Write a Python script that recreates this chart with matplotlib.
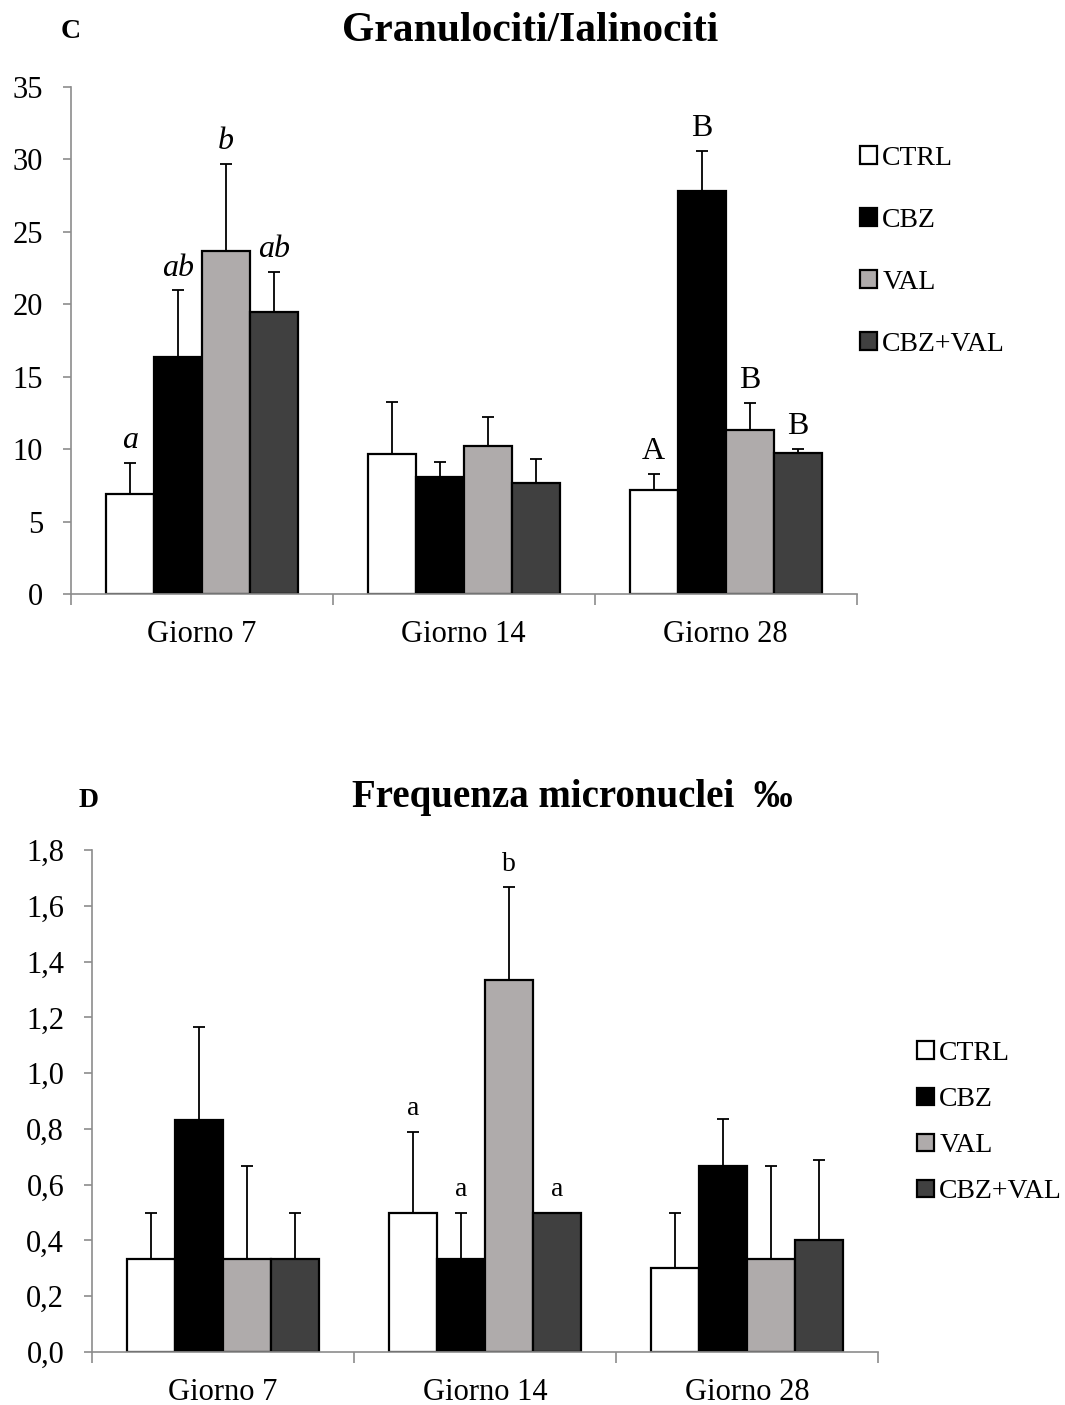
import matplotlib
matplotlib.use("Agg")
import matplotlib.pyplot as plt
import numpy as np
from matplotlib.ticker import FixedLocator, FuncFormatter

plt.rcParams['font.family'] = ['Liberation Serif', 'DejaVu Serif']

days = ['Giorno 7', 'Giorno 14', 'Giorno 28']
groups = ['CTRL', 'CBZ', 'VAL', 'CBZ+VAL']
colors = ['#ffffff', '#000000', '#afabab', '#404040']

# Panel C: Granulociti/Ialinociti (rows = groups, cols = days)
gran_mean = [[6.9, 9.66, 7.18],
             [16.33, 8.1, 27.83],
             [23.7, 10.19, 11.3],
             [19.48, 7.66, 9.75]]
gran_err = [[2.16, 3.57, 1.1],
            [4.65, 1.0, 2.77],
            [6.0, 2.05, 1.9],
            [2.77, 1.66, 0.28]]
gran_letters = [['a', '', 'A'],
                ['ab', '', 'B'],
                ['b', '', 'B'],
                ['ab', '', 'B']]
gran_italic = [True, False, False]

# Panel D: Frequenza micronuclei
mn_mean = [[0.333, 0.5, 0.3],
           [0.833, 0.333, 0.667],
           [0.333, 1.333, 0.333],
           [0.333, 0.5, 0.4]]
mn_err = [[0.167, 0.29, 0.2],
          [0.333, 0.167, 0.167],
          [0.333, 0.333, 0.333],
          [0.167, 0.0, 0.29]]
mn_letters = [['', 'a', ''],
              ['', 'a', ''],
              ['', 'b', ''],
              ['', 'a', '']]

W, H = 1065, 1405
fig = plt.figure(figsize=(W / 100, H / 100), dpi=100)

def px_axes(left, right, top, bottom):
    return fig.add_axes([left / W, 1 - bottom / H, (right - left) / W, (bottom - top) / H])

ax1 = px_axes(70.7, 856.7, 87, 594)
ax2 = px_axes(92, 878, 850, 1352)

bw = 48 / 262.0
axis_gray = '#8c8c8c'

def draw(ax, means, errs, letters, ymax, yticks, fmt, italic_by_day, letter_size, letter_off):
    x = np.arange(len(days)) + 0.5
    bars = []
    for g in range(len(groups)):
        xs = x + (g - 1.5) * bw
        b = ax.bar(xs, means[g], width=bw, color=colors[g], edgecolor='black',
                   linewidth=1.6, label=groups[g], zorder=2)
        bars.append(b)
        ax.errorbar(xs, means[g], yerr=[np.zeros(len(days)), errs[g]], fmt='none',
                    ecolor='black', elinewidth=1.3, capsize=4.3, capthick=1.3, zorder=1)
        for d in range(len(days)):
            t = letters[g][d]
            if t:
                ax.annotate(t, (xs[d], means[g][d] + errs[g][d]), xytext=(0, letter_off),
                            textcoords='offset points', ha='center', va='baseline',
                            fontsize=letter_size,
                            style='italic' if italic_by_day[d] else 'normal')
    ax.set_xlim(0, 3)
    ax.set_ylim(0, ymax)
    for s in ['top', 'right']:
        ax.spines[s].set_visible(False)
    for s in ['left', 'bottom']:
        ax.spines[s].set_color(axis_gray)
        ax.spines[s].set_linewidth(1.2)
    ax.set_yticks(yticks)
    ax.yaxis.set_major_formatter(FuncFormatter(fmt))
    ax.tick_params(axis='y', direction='out', length=6, width=1.2, color=axis_gray,
                   labelsize=22, pad=14)
    ax.xaxis.set_major_locator(FixedLocator([0, 1, 2, 3]))
    ax.xaxis.set_minor_locator(FixedLocator(list(x)))
    ax.tick_params(axis='x', which='major', direction='out', length=8, width=1.2,
                   color=axis_gray, labelbottom=False)
    ax.tick_params(axis='x', which='minor', length=0, labelsize=22, pad=19)
    ax.set_xticklabels(days, minor=True)
    return bars

bars1 = draw(ax1, gran_mean, gran_err, gran_letters, 35, np.arange(0, 36, 5),
             lambda v, p: f'{v:.0f}', gran_italic, 23, 10.5)
bars2 = draw(ax2, mn_mean, mn_err, mn_letters, 1.8, np.arange(0, 1.81, 0.2),
             lambda v, p: f'{v:.1f}'.replace('.', ','), [False, False, False], 20, 12)

fig.legend(handles=bars1, labels=groups, loc='upper left',
           bbox_to_anchor=(860 / W, 1 - 146 / H), frameon=False, fontsize=20,
           handlelength=0.6, handleheight=0.6, handletextpad=0.2,
           labelspacing=1.33, borderpad=0, borderaxespad=0)
fig.legend(handles=bars2, labels=groups, loc='upper left',
           bbox_to_anchor=(917 / W, 1 - 1041 / H), frameon=False, fontsize=20,
           handlelength=0.6, handleheight=0.6, handletextpad=0.2,
           labelspacing=0.76, borderpad=0, borderaxespad=0)

fig.text(530 / W, 1 - 31 / H, 'Granulociti/Ialinociti', ha='center', va='center',
         fontsize=30, fontweight='bold')
fig.text(71 / W, 1 - 32 / H, 'C', ha='center', va='center', fontsize=20, fontweight='bold')
fig.text(572 / W, 1 - 798 / H, 'Frequenza micronuclei  ‰', ha='center', va='center',
         fontsize=28, fontweight='bold')
fig.text(89 / W, 1 - 800 / H, 'D', ha='center', va='center', fontsize=20, fontweight='bold')

fig.savefig('out.png', dpi=100, facecolor='white')
